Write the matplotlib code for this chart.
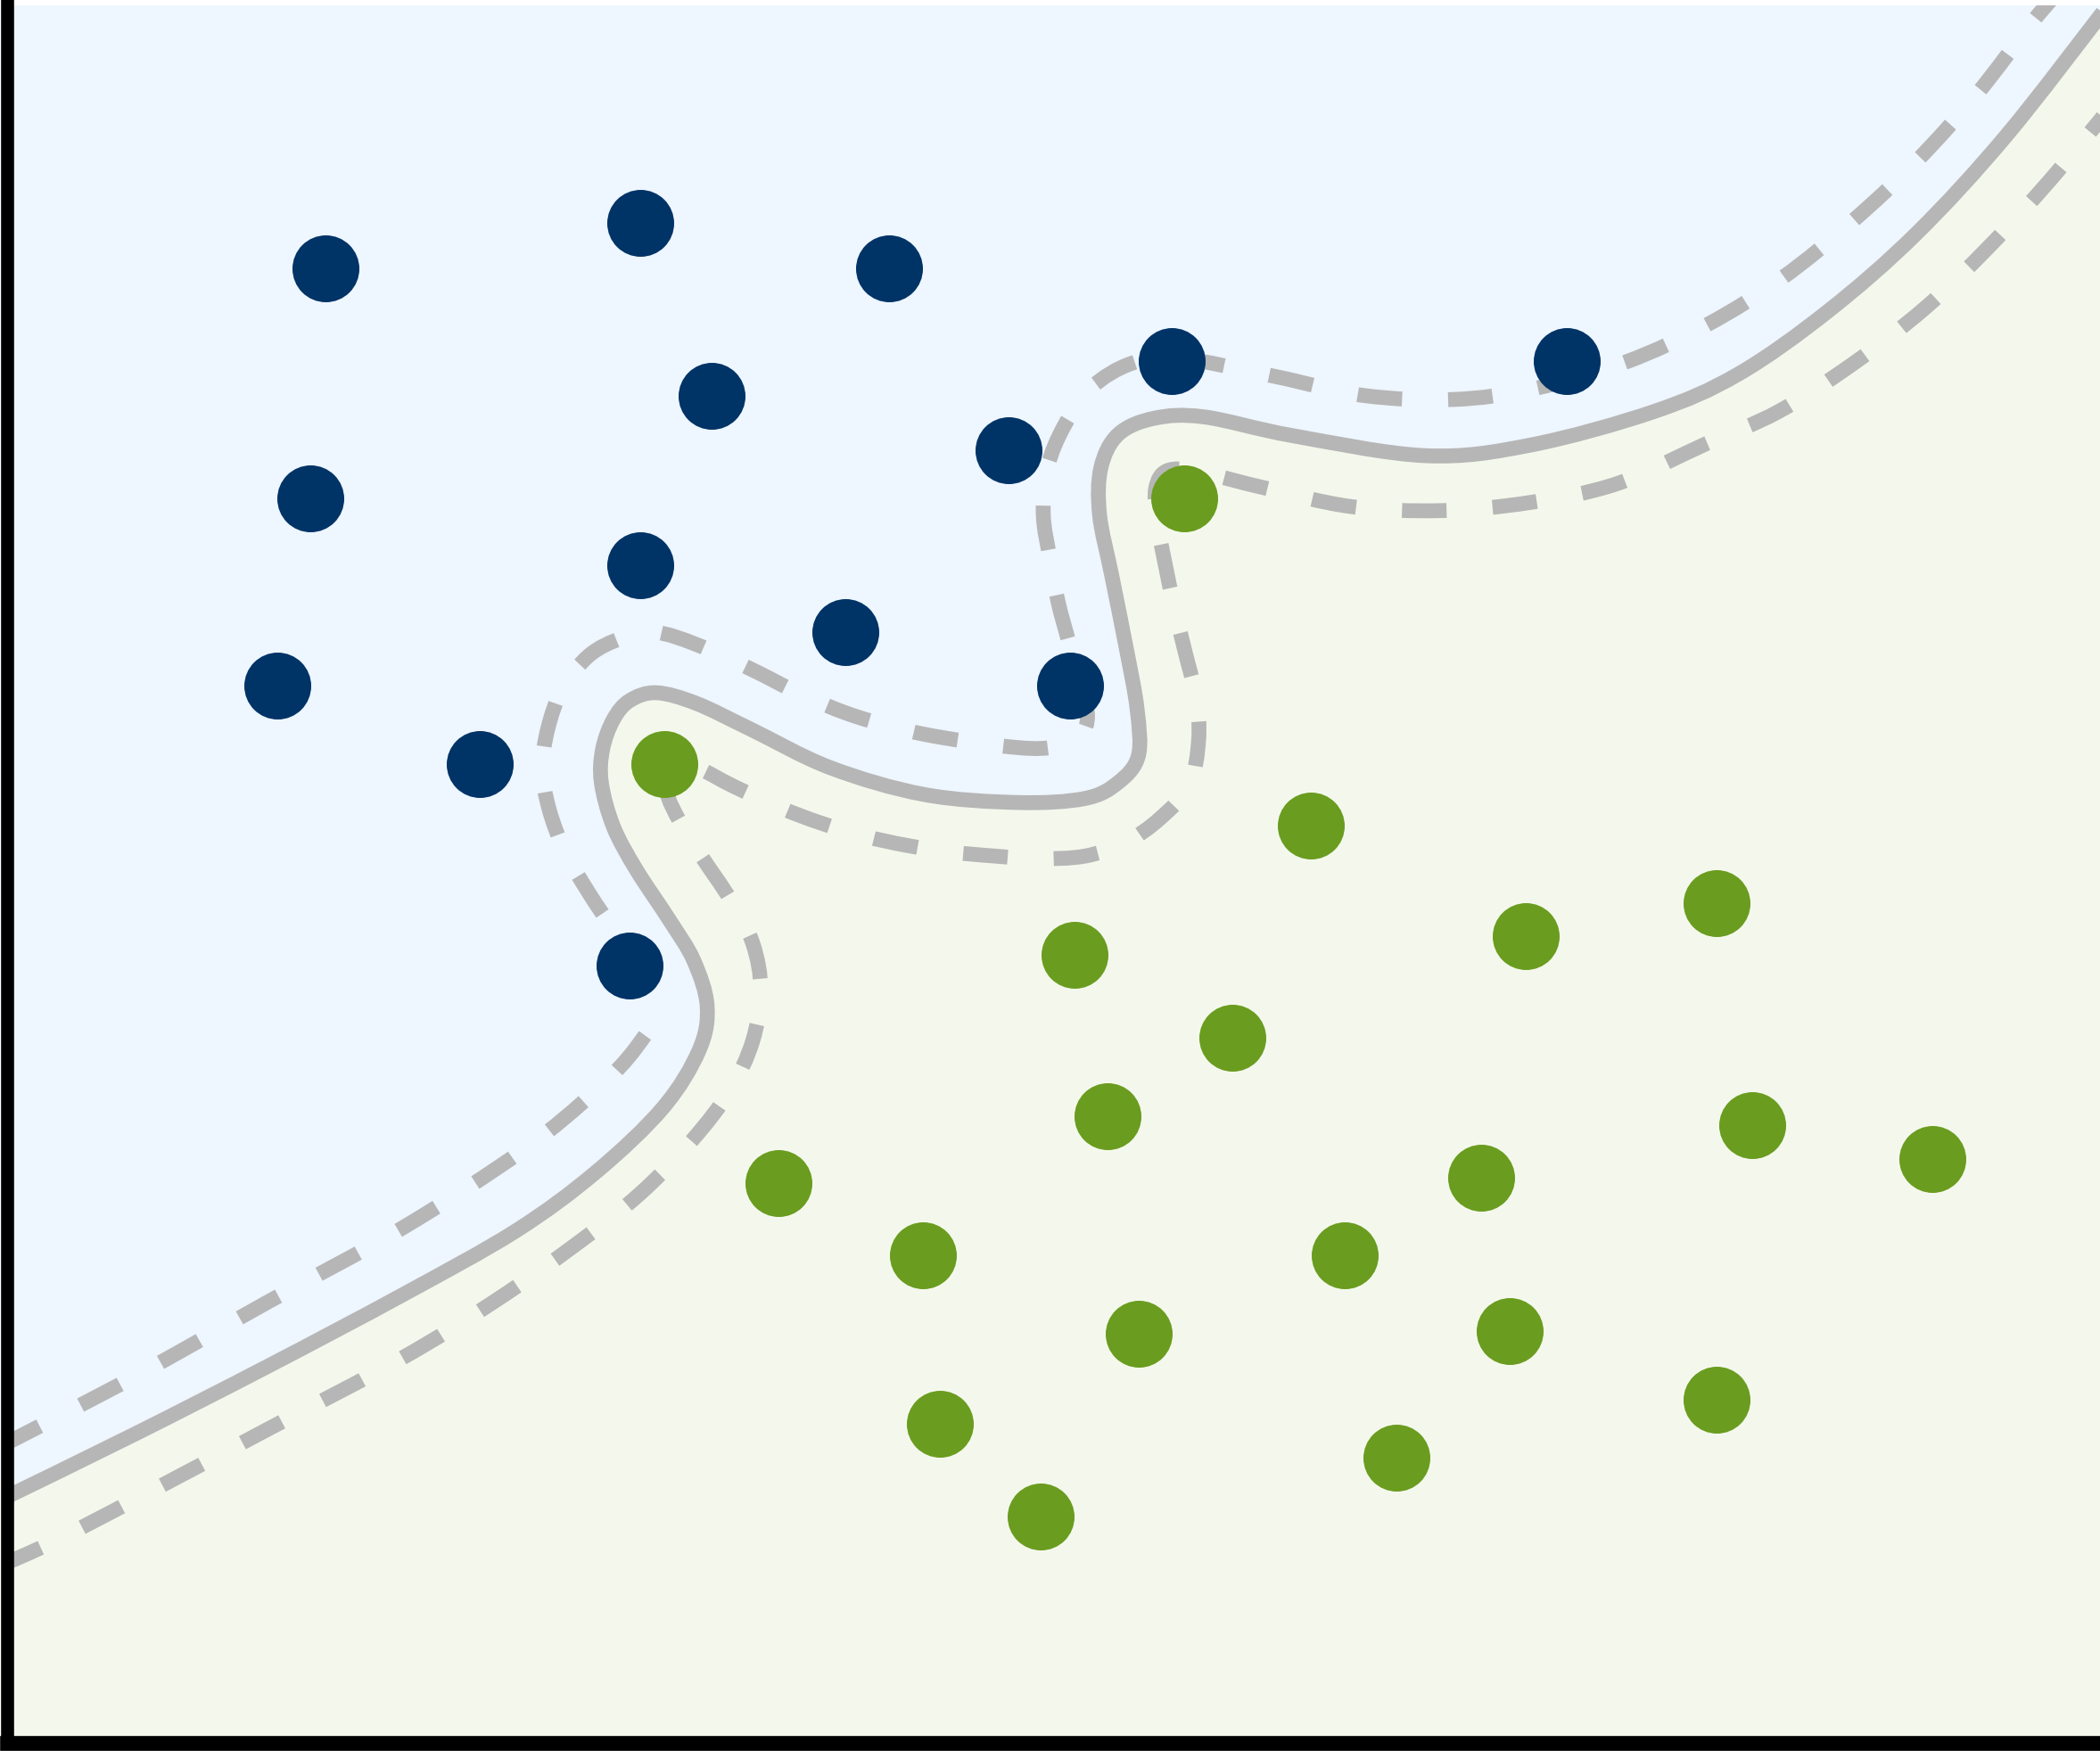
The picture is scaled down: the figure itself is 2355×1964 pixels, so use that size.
import numpy as np
import matplotlib
matplotlib.use("Agg")
import matplotlib.pyplot as plt
from matplotlib.path import Path
from matplotlib.patches import PathPatch

# drawing units = reference pixels / K
W = 1568
K = 2355 / W
BLUE, GREEN, GRAY = "#003366", "#6a9c1f", "#b6b6b6"
BG_BLUE, BG_GREEN = "#eef6ff", "#f4f8ec"

# class A (blue) and class B (green) samples
blue_x = [243, 478, 664, 531, 232, 753, 875, 1170, 478, 631, 207, 799, 358, 470]
blue_y = [201, 167, 201, 296, 373, 337, 270, 270, 423, 473, 513, 513, 571, 722]
green_x = [496, 884, 979, 1282, 1139, 802, 920, 827, 1308, 1443,
           1106, 581, 689, 1004, 850, 1127, 1282, 702, 1043, 777]
green_y = [571, 373, 617, 675, 700, 714, 776, 834, 841, 866,
           880, 884, 938, 938, 997, 995, 1046, 1064, 1089, 1133]

# decision boundary (solid)
bound_x = [0, 100, 200, 300, 385, 445, 495, 522, 528, 518, 500, 475, 458, 449, 450, 458, 470, 490,
           520, 560, 620, 690, 760, 810, 835, 850, 849, 841, 830, 821, 822, 835, 862, 899, 965,
           1065, 1143, 1235, 1298, 1365, 1431, 1498, 1570]
bound_y = [1121, 1072, 1021, 968, 920, 876, 828, 785, 752, 718, 688, 650, 618, 585, 560, 538, 524, 518,
           526, 545, 574, 594, 600, 597, 585, 565, 530, 485, 430, 385, 350, 325, 313, 312, 326,
           341, 333, 308, 280, 233, 175, 102, 10]

# margins (dashed)
upper_x = [0, 100, 200, 300, 390, 445, 475, 487, 476, 458, 440, 422, 410, 405, 409, 420, 440, 465,
           490, 520, 560, 600, 640, 690, 750, 784, 806, 812, 806, 798, 790, 784, 779, 782, 795,
           815, 845, 880, 953, 1018, 1085, 1145, 1214, 1275, 1331, 1383, 1431, 1476, 1516, 1532]
upper_y = [1081, 1029, 973, 918, 860, 815, 783, 758, 722, 695, 668, 637, 605, 575, 545, 515, 490, 477,
           473, 482, 500, 520, 536, 549, 558, 559, 550, 535, 510, 480, 450, 418, 385, 350, 318,
           290, 272, 268, 282, 296, 299, 291, 271, 243, 208, 166, 121, 71, 19, 0]
lower_x = [0, 40, 100, 200, 300, 370, 430, 478, 517, 545, 562, 568, 562, 545, 525, 508, 498, 502,
           520, 548, 583, 612, 645, 677, 710, 743, 775, 810, 840, 866, 888, 895, 893, 885, 877,
           870, 864, 863, 872, 895, 944, 1009, 1076, 1142, 1207, 1274, 1328, 1384, 1437, 1485,
           1530, 1570]
lower_y = [1170, 1152, 1121, 1068, 1015, 972, 930, 892, 852, 815, 778, 740, 705, 672, 642, 615, 592, 574,
           574, 588, 604, 615, 625, 632, 637, 640, 642, 640, 630, 612, 587, 553, 521, 488, 455,
           422, 390, 365, 352, 353, 365, 379, 382, 376, 362, 332, 308, 272, 231, 185,
           136, 88]


def smooth_path(xs, ys):
    p = np.column_stack([xs, ys]).astype(float)
    verts, codes = [p[0]], [Path.MOVETO]
    n = len(p)
    for i in range(n - 1):
        a = p[i - 1] if i > 0 else p[i]
        d = p[i + 2] if i + 2 < n else p[i + 1]
        verts += [p[i] + (p[i + 1] - a) / 6, p[i + 1] - (d - p[i]) / 6, p[i + 1]]
        codes += [Path.CURVE4] * 3
    return verts, codes


fig = plt.figure(figsize=(23.55, 19.65), dpi=100)
ax = fig.add_axes([8 / 2355, 9.5 / 1965, 1 - 8 / 2355, 1 - 16.5 / 1965])
x0, x1 = 8 / K, W
y0, y1 = 1955.5 / K, 7 / K
ax.set_xlim(x0, x1); ax.set_ylim(y0, y1)
ax.set_facecolor(BG_GREEN)

# blue half-plane above the boundary
v, c = smooth_path(bound_x, bound_y)
v = v + [(x1 + 100, y1 - 100), (x0 - 100, y1 - 100), (x0 - 100, bound_y[0]), (0, 0)]
c = c + [Path.LINETO] * 3 + [Path.CLOSEPOLY]
ax.add_patch(PathPatch(Path(v, c), facecolor=BG_BLUE, edgecolor="none", zorder=0))

v, c = smooth_path(bound_x, bound_y)
ax.add_patch(PathPatch(Path(v, c), fill=False, edgecolor=GRAY, lw=12, capstyle="butt",
                       joinstyle="round", zorder=2))
for xs, ys in [(upper_x, upper_y), (lower_x, lower_y)]:
    v, c = smooth_path(xs, ys)
    ax.add_patch(PathPatch(Path(v, c), fill=False, edgecolor=GRAY, lw=12,
                           linestyle=(0, (3.0, 3.1)), capstyle="butt", zorder=2))

ax.plot(blue_x, blue_y, "o", ms=54, color=BLUE, mec="none", zorder=4)
ax.plot(green_x, green_y, "o", ms=54, color=GREEN, mec="none", zorder=4)

for s in ["top", "right"]:
    ax.spines[s].set_visible(False)
ax.spines["left"].set_linewidth(10.5)
ax.spines["bottom"].set_linewidth(12)
ax.set_xticks([]); ax.set_yticks([])

fig.savefig("out.png", dpi=100)
